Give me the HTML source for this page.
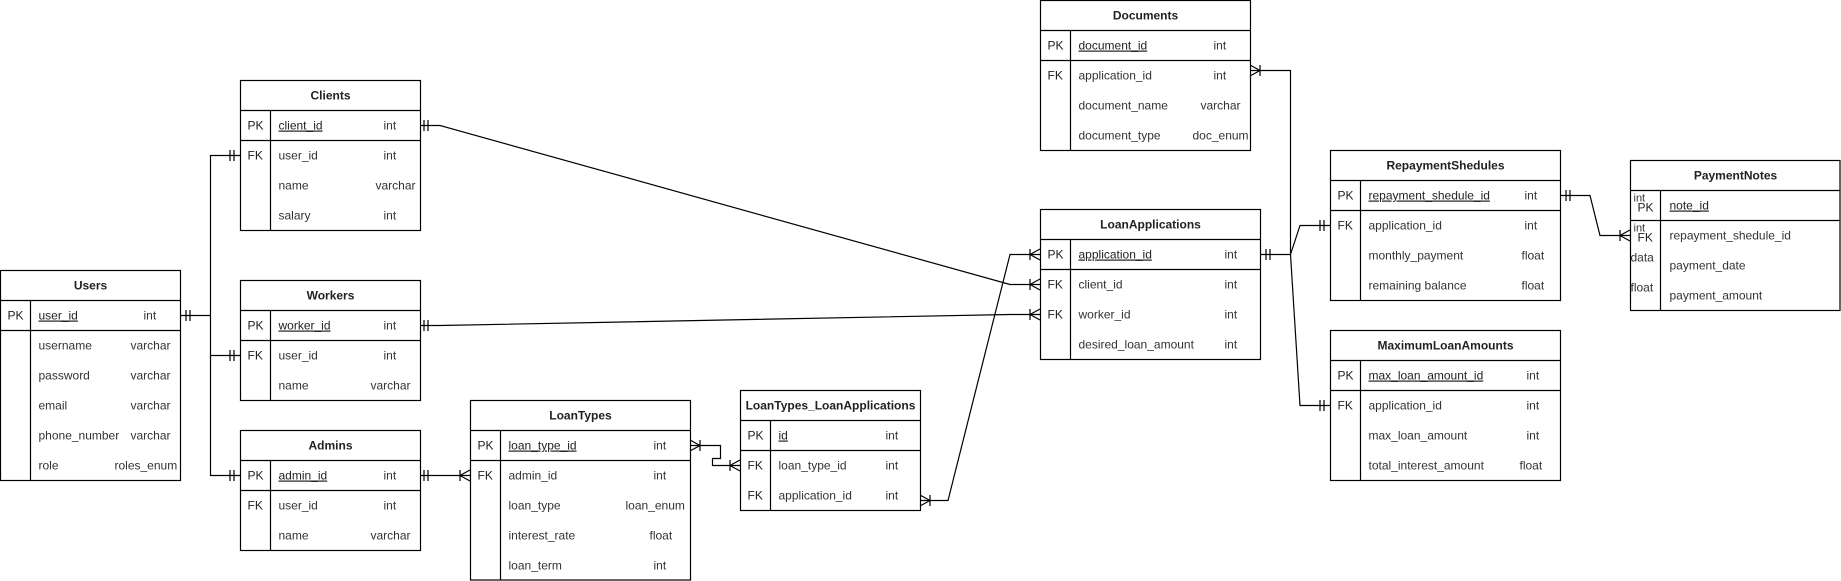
<!DOCTYPE html>
<html><head><meta charset="utf-8"><style>
html,body{margin:0;padding:0;background:#fff;}
svg{display:block;}
text{font-family:"Liberation Sans",Arial,sans-serif;font-size:12px;fill:#333;}
.h{font-weight:bold;fill:#222;}
.k{fill:#222;}
.u{text-decoration:underline;fill:#222;}
.t rect,line,polyline{stroke:#000;stroke-width:1.2;fill:none;}
</style></head><body>
<svg width="1841" height="581" viewBox="0 0 1841 581" xmlns="http://www.w3.org/2000/svg">
<g class="t">
<g transform="translate(0.5,270.5)">
<rect x="0" y="0" width="180" height="210"/>
<line x1="0" y1="30" x2="180" y2="30"/><line x1="0" y1="60" x2="180" y2="60"/><line x1="30" y1="30" x2="30" y2="210"/>
<text class="h" x="90" y="19" text-anchor="middle">Users</text>
<text class="k" x="7" y="49">PK</text><text class="u" x="38" y="49">user_id</text><text x="143" y="49">int</text>
<text x="38" y="79">username</text><text x="130" y="79">varchar</text>
<text x="38" y="109">password</text><text x="130" y="109">varchar</text>
<text x="38" y="139">email</text><text x="130" y="139">varchar</text>
<text x="38" y="169">phone_number</text><text x="130" y="169">varchar</text>
<text x="38" y="199">role</text><text x="114" y="199">roles_enum</text>
</g>

<g transform="translate(240.5,80.5)">
<rect x="0" y="0" width="180" height="150"/>
<line x1="0" y1="30" x2="180" y2="30"/><line x1="0" y1="60" x2="180" y2="60"/><line x1="30" y1="30" x2="30" y2="150"/>
<text class="h" x="90" y="19" text-anchor="middle">Clients</text>
<text class="k" x="7" y="49">PK</text><text class="u" x="38" y="49">client_id</text><text x="143" y="49">int</text>
<text class="k" x="7" y="79">FK</text><text x="38" y="79">user_id</text><text x="143" y="79">int</text>
<text x="38" y="109">name</text><text x="135" y="109">varchar</text>
<text x="38" y="139">salary</text><text x="143" y="139">int</text>
</g>

<g transform="translate(240.5,280.5)">
<rect x="0" y="0" width="180" height="120"/>
<line x1="0" y1="30" x2="180" y2="30"/><line x1="0" y1="60" x2="180" y2="60"/><line x1="30" y1="30" x2="30" y2="120"/>
<text class="h" x="90" y="19" text-anchor="middle">Workers</text>
<text class="k" x="7" y="49">PK</text><text class="u" x="38" y="49">worker_id</text><text x="143" y="49">int</text>
<text class="k" x="7" y="79">FK</text><text x="38" y="79">user_id</text><text x="143" y="79">int</text>
<text x="38" y="109">name</text><text x="130" y="109">varchar</text>
</g>

<g transform="translate(240.5,430.5)">
<rect x="0" y="0" width="180" height="120"/>
<line x1="0" y1="30" x2="180" y2="30"/><line x1="0" y1="60" x2="180" y2="60"/><line x1="30" y1="30" x2="30" y2="120"/>
<text class="h" x="90" y="19" text-anchor="middle">Admins</text>
<text class="k" x="7" y="49">PK</text><text class="u" x="38" y="49">admin_id</text><text x="143" y="49">int</text>
<text class="k" x="7" y="79">FK</text><text x="38" y="79">user_id</text><text x="143" y="79">int</text>
<text x="38" y="109">name</text><text x="130" y="109">varchar</text>
</g>

<g transform="translate(470.5,400.5)">
<rect x="0" y="0" width="220" height="179.5"/>
<line x1="0" y1="30" x2="220" y2="30"/><line x1="0" y1="60" x2="220" y2="60"/><line x1="30" y1="30" x2="30" y2="179.5"/>
<text class="h" x="110" y="19" text-anchor="middle">LoanTypes</text>
<text class="k" x="7" y="49">PK</text><text class="u" x="38" y="49">loan_type_id</text><text x="183" y="49">int</text>
<text class="k" x="7" y="79">FK</text><text x="38" y="79">admin_id</text><text x="183" y="79">int</text>
<text x="38" y="109">loan_type</text><text x="155" y="109">loan_enum</text>
<text x="38" y="139">interest_rate</text><text x="179" y="139">float</text>
<text x="38" y="169">loan_term</text><text x="183" y="169">int</text>
</g>

<g transform="translate(740.5,390.5)">
<rect x="0" y="0" width="180" height="120"/>
<line x1="0" y1="30" x2="180" y2="30"/><line x1="0" y1="60" x2="180" y2="60"/><line x1="30" y1="30" x2="30" y2="120"/>
<text class="h" x="90" y="19" text-anchor="middle">LoanTypes_LoanApplications</text>
<text class="k" x="7" y="49">PK</text><text class="u" x="38" y="49">id</text><text x="145" y="49">int</text>
<text class="k" x="7" y="79">FK</text><text x="38" y="79">loan_type_id</text><text x="145" y="79">int</text>
<text class="k" x="7" y="109">FK</text><text x="38" y="109">application_id</text><text x="145" y="109">int</text>
</g>

<g transform="translate(1040.5,209.5)">
<rect x="0" y="0" width="220" height="150"/>
<line x1="0" y1="30" x2="220" y2="30"/><line x1="0" y1="60" x2="220" y2="60"/><line x1="30" y1="30" x2="30" y2="150"/>
<text class="h" x="110" y="19" text-anchor="middle">LoanApplications</text>
<text class="k" x="7" y="49">PK</text><text class="u" x="38" y="49">application_id</text><text x="184" y="49">int</text>
<text class="k" x="7" y="79">FK</text><text x="38" y="79">client_id</text><text x="184" y="79">int</text>
<text class="k" x="7" y="109">FK</text><text x="38" y="109">worker_id</text><text x="184" y="109">int</text>
<text x="38" y="139">desired_loan_amount</text><text x="184" y="139">int</text>
</g>

<g transform="translate(1040.5,0.5)">
<rect x="0" y="0" width="210" height="150"/>
<line x1="0" y1="30" x2="210" y2="30"/><line x1="0" y1="60" x2="210" y2="60"/><line x1="30" y1="30" x2="30" y2="150"/>
<text class="h" x="105" y="19" text-anchor="middle">Documents</text>
<text class="k" x="7" y="49">PK</text><text class="u" x="38" y="49">document_id</text><text x="173" y="49">int</text>
<text class="k" x="7" y="79">FK</text><text x="38" y="79">application_id</text><text x="173" y="79">int</text>
<text x="38" y="109">document_name</text><text x="160" y="109">varchar</text>
<text x="38" y="139">document_type</text><text x="152" y="139">doc_enum</text>
</g>

<g transform="translate(1330.5,150.5)">
<rect x="0" y="0" width="230" height="150"/>
<line x1="0" y1="30" x2="230" y2="30"/><line x1="0" y1="60" x2="230" y2="60"/><line x1="30" y1="30" x2="30" y2="150"/>
<text class="h" x="115" y="19" text-anchor="middle">RepaymentShedules</text>
<text class="k" x="7" y="49">PK</text><text class="u" x="38" y="49">repayment_shedule_id</text><text x="194" y="49">int</text>
<text class="k" x="7" y="79">FK</text><text x="38" y="79">application_id</text><text x="194" y="79">int</text>
<text x="38" y="109">monthly_payment</text><text x="191" y="109">float</text>
<text x="38" y="139">remaining balance</text><text x="191" y="139">float</text>
</g>

<g transform="translate(1630.5,160.5)">
<rect x="0" y="0" width="209.5" height="150"/>
<line x1="0" y1="30" x2="209.5" y2="30"/><line x1="0" y1="60" x2="209.5" y2="60"/><line x1="30" y1="30" x2="30" y2="150"/>
<text class="h" x="105" y="19" text-anchor="middle">PaymentNotes</text>
<text x="3" y="41" style="font-size:11px">int</text>
<text class="k" x="7" y="51">PK</text><text class="u" x="39" y="49">note_id</text>
<text x="3" y="71" style="font-size:11px">int</text>
<text class="k" x="7" y="81">FK</text><text x="39" y="79">repayment_shedule_id</text>
<text x="0" y="101">data</text><text x="39" y="109">payment_date</text>
<text x="0" y="131">float</text><text x="39" y="139">payment_amount</text>
</g>

<g transform="translate(1330.5,330.5)">
<rect x="0" y="0" width="230" height="150"/>
<line x1="0" y1="30" x2="230" y2="30"/><line x1="0" y1="60" x2="230" y2="60"/><line x1="30" y1="30" x2="30" y2="150"/>
<text class="h" x="115" y="19" text-anchor="middle">MaximumLoanAmounts</text>
<text class="k" x="7" y="49">PK</text><text class="u" x="38" y="49">max_loan_amount_id</text><text x="196" y="49">int</text>
<text class="k" x="7" y="79">FK</text><text x="38" y="79">application_id</text><text x="196" y="79">int</text>
<text x="38" y="109">max_loan_amount</text><text x="196" y="109">int</text>
<text x="38" y="139">total_interest_amount</text><text x="189" y="139">float</text>
</g>

<polyline points="180,315.5 210.5,315.5"/>
<line x1="186" y1="310" x2="186" y2="321"/><line x1="190" y1="310" x2="190" y2="321"/>
<line x1="210.5" y1="155" x2="210.5" y2="476"/>
<polyline points="210.5,155.5 240,155.5"/>
<line x1="230" y1="150" x2="230" y2="161"/><line x1="234" y1="150" x2="234" y2="161"/>
<polyline points="210.5,355.5 240,355.5"/>
<line x1="230" y1="350" x2="230" y2="361"/><line x1="234" y1="350" x2="234" y2="361"/>
<polyline points="210.5,475.5 240,475.5"/>
<line x1="230" y1="470" x2="230" y2="481"/><line x1="234" y1="470" x2="234" y2="481"/>

<polyline points="420,125.5 440,125.5 1010,284.5 1040,284.5"/>
<line x1="424" y1="120" x2="424" y2="131"/><line x1="428" y1="120" x2="428" y2="131"/>
<line x1="1030" y1="279" x2="1030" y2="290"/><line x1="1030" y1="284.5" x2="1040" y2="279"/><line x1="1030" y1="284.5" x2="1040" y2="290"/>

<polyline points="420,325.5 440,325.5 1010,314.5 1040,314.5"/>
<line x1="424" y1="320" x2="424" y2="331"/><line x1="428" y1="320" x2="428" y2="331"/>
<line x1="1030" y1="309" x2="1030" y2="320"/><line x1="1030" y1="314.5" x2="1040" y2="309"/><line x1="1030" y1="314.5" x2="1040" y2="320"/>

<polyline points="920,500.5 948,500.5 1010,254.5 1040,254.5"/>
<line x1="1030" y1="249" x2="1030" y2="260"/><line x1="1030" y1="254.5" x2="1040" y2="249"/><line x1="1030" y1="254.5" x2="1040" y2="260"/>
<line x1="930" y1="495" x2="930" y2="506"/><line x1="930" y1="500.5" x2="920" y2="495"/><line x1="930" y1="500.5" x2="920" y2="506"/>

<polyline points="420,475.5 470,475.5"/>
<line x1="424" y1="470" x2="424" y2="481"/><line x1="428" y1="470" x2="428" y2="481"/>
<line x1="460" y1="470" x2="460" y2="481"/><line x1="460" y1="475.5" x2="470" y2="470"/><line x1="460" y1="475.5" x2="470" y2="481"/>

<polyline points="690,445.5 720.5,445.5 720.5,458.5 712.5,458.5 712.5,465.5 740,465.5"/>
<line x1="700" y1="440" x2="700" y2="451"/><line x1="700" y1="445.5" x2="690" y2="440"/><line x1="700" y1="445.5" x2="690" y2="451"/>
<line x1="730" y1="460" x2="730" y2="471"/><line x1="730" y1="465.5" x2="740" y2="460"/><line x1="730" y1="465.5" x2="740" y2="471"/>

<polyline points="1260,254.5 1290.5,254.5"/>
<line x1="1266" y1="249" x2="1266" y2="260"/><line x1="1270" y1="249" x2="1270" y2="260"/>
<polyline points="1290.5,254.5 1290.5,70.5 1250,70.5"/>
<line x1="1260" y1="65" x2="1260" y2="76"/><line x1="1260" y1="70.5" x2="1250" y2="65"/><line x1="1260" y1="70.5" x2="1250" y2="76"/>
<polyline points="1290.5,254.5 1300,225.5 1330,225.5"/>
<line x1="1320" y1="220" x2="1320" y2="231"/><line x1="1324" y1="220" x2="1324" y2="231"/>
<polyline points="1290.5,254.5 1300,405.5 1330,405.5"/>
<line x1="1320" y1="400" x2="1320" y2="411"/><line x1="1324" y1="400" x2="1324" y2="411"/>

<polyline points="1560,195.5 1590,195.5 1600,235.5 1630,235.5"/>
<line x1="1566" y1="190" x2="1566" y2="201"/><line x1="1570" y1="190" x2="1570" y2="201"/>
<line x1="1620" y1="230" x2="1620" y2="241"/><line x1="1620" y1="235.5" x2="1630" y2="230"/><line x1="1620" y1="235.5" x2="1630" y2="241"/>
</g>
</svg>
</body></html>
